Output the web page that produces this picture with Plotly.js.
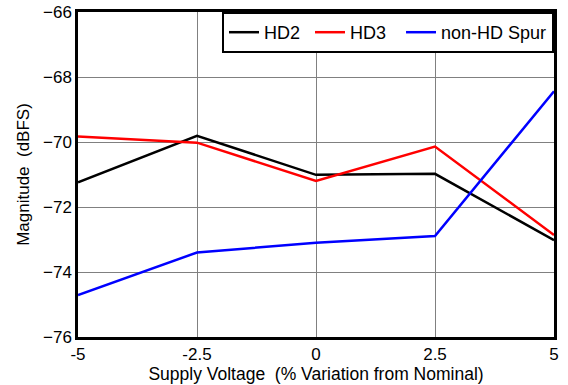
<!DOCTYPE html>
<html><head><meta charset="utf-8">
<script src="https://cdn.plot.ly/plotly-3.0.1.min.js"></script>
<style>body{margin:0;background:#fff}#c{width:568px;height:385px}</style>
</head><body><div id="c"></div>
<script>
const xVals = [-5, -2.5, 0, 2.5, 5];
const hd2 = [-71.24, -69.81, -71.01, -70.98, -73.02];
const hd3 = [-69.83, -70.02, -71.2, -70.14, -72.86];
const spur = [-74.71, -73.40, -73.10, -72.89, -68.44];
const names = ['HD2\u00a0', 'HD3\u00a0\u00a0', 'non-HD Spur'];
const colors = ['#000000', '#ff0000', '#0000ff'];
const series = [hd2, hd3, spur];
const traces = series.map((s, i) => ({
  x: xVals, y: s, type: 'scatter', mode: 'lines', name: names[i],
  line: {color: colors[i], width: 2.5}
}));
const font = {family: 'Liberation Sans, Arial, sans-serif', color: '#000'};
Plotly.newPlot('c', traces, {
  width: 568, height: 385,
  margin: {l: 78, r: 14, t: 12, b: 48},
  paper_bgcolor: '#fff', plot_bgcolor: '#fff',
  font: Object.assign({size: 17}, font),
  showlegend: true,
  legend: {orientation: 'h', x: 1, xanchor: 'right', y: 1, yanchor: 'top',
    bgcolor: '#fff', bordercolor: '#000', borderwidth: 2,
    font: Object.assign({size: 18}, font), itemwidth: 30},
  xaxis: {range: [-5, 5], tickvals: xVals, ticktext: ['-5', '-2.5', '0', '2.5', '5'],
    showgrid: true, gridcolor: '#808080', gridwidth: 1, zeroline: false,
    showline: true, linecolor: '#000', linewidth: 2.5, mirror: true, ticks: '',
    tickfont: Object.assign({size: 17}, font),
    title: {text: 'Supply Voltage\u00a0\u00a0(% Variation from Nominal)', font: Object.assign({size: 17.5}, font), standoff: 2}},
  yaxis: {range: [-76, -66], tickvals: [-76, -74, -72, -70, -68, -66],
    showgrid: true, gridcolor: '#808080', gridwidth: 1, zeroline: false,
    showline: true, linecolor: '#000', linewidth: 2.5, mirror: true, ticks: '',
    tickfont: Object.assign({size: 17}, font),
    title: {text: 'Magnitude\u00a0\u00a0(dBFS)', font: Object.assign({size: 17}, font), standoff: 10}}
}, {displayModeBar: false});
</script></body></html>
